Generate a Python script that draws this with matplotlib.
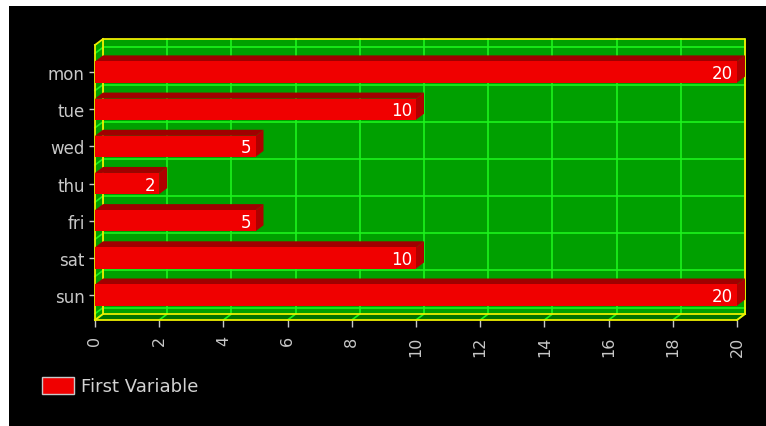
import matplotlib
matplotlib.use("Agg")
import matplotlib.pyplot as plt
from matplotlib.patches import Rectangle, Polygon

categories = ["mon", "tue", "wed", "thu", "fri", "sat", "sun"]
values = [20, 10, 5, 2, 5, 10, 20]
series_name = "First Variable"
x_ticks = list(range(0, 21, 2))

W, H = 766, 427
fig = plt.figure(figsize=(W / 100, H / 100), dpi=100, facecolor="white")
fig.patches.append(Rectangle((9 / W, 0), 1 - 9 / W, 1 - 7 / H, transform=fig.transFigure,
                             facecolor="black", edgecolor="none", zorder=-10))

# front plane in pixels: x 95..737, y 46..321
ax = fig.add_axes([95 / W, 1 - 321 / H, 642 / W, 275 / H])
xmax = 20
top, bottom = -0.726, 6.67
ax.set_xlim(0, xmax)
ax.set_ylim(bottom, top)
ax.patch.set_visible(False)
for s in ax.spines.values():
    s.set_visible(False)

px_x = 642 / xmax
px_y = 275 / (bottom - top)
DX = 8 / px_x
DY = 6 / px_y

wall = "#00a000"
floor_c = "#007400"
grid_c = "#1cf41c"
yellow = "#eeee00"

# back wall
ax.add_patch(Rectangle((DX, top - DY), xmax, bottom - top, facecolor=wall,
                       edgecolor="none", zorder=1, clip_on=False))
for t in x_ticks:
    ax.plot([t + DX, t + DX], [top - DY, bottom - DY], color=grid_c, lw=1.2, zorder=2, clip_on=False)
for i in range(len(categories) + 1):
    b = i - 0.5
    ax.plot([DX, xmax + DX], [b - DY, b - DY], color=grid_c, lw=1.2, zorder=2, clip_on=False)

# left wall
ax.add_patch(Polygon([(0, top), (0, bottom), (DX, bottom - DY), (DX, top - DY)], closed=True,
                     facecolor=wall, edgecolor="none", zorder=3, clip_on=False))
for i in range(len(categories) + 1):
    b = i - 0.5
    ax.plot([0, DX], [b, b - DY], color=grid_c, lw=1.2, zorder=3.5, clip_on=False)

# floor
ax.add_patch(Polygon([(0, bottom), (xmax, bottom), (xmax + DX, bottom - DY), (DX, bottom - DY)],
                     closed=True, facecolor=floor_c, edgecolor="none", zorder=3, clip_on=False))
for t in x_ticks:
    ax.plot([t, t + DX], [bottom, bottom - DY], color=grid_c, lw=1.2, zorder=3.5, clip_on=False)

# yellow outline
lw_y = 1.3
outline = [
    ([DX, xmax + DX, xmax + DX], [top - DY, top - DY, bottom - DY]),
    ([DX, DX], [top - DY, bottom - DY]),
    ([0, DX], [top, top - DY]),
    ([0, 0], [top, bottom]),
    ([0, xmax], [bottom, bottom]),
    ([xmax, xmax + DX], [bottom, bottom - DY]),
    ([0, DX], [bottom, bottom - DY]),
    ([DX, xmax + DX], [bottom - DY, bottom - DY]),
]
for xs, ys in outline:
    ax.plot(xs, ys, color=yellow, lw=lw_y, zorder=4, clip_on=False)

# bars
h = 0.285
front_c = "#f00000"
top_c = "#a00000"
side_c = "#b00000"
for i, v in enumerate(values):
    c = i
    ax.add_patch(Polygon([(0, c - h), (v, c - h), (v + DX, c - h - DY), (DX, c - h - DY)], closed=True,
                         facecolor=top_c, edgecolor="none", zorder=5, clip_on=False))
    ax.add_patch(Polygon([(v, c - h), (v, c + h), (v + DX, c + h - DY), (v + DX, c - h - DY)], closed=True,
                         facecolor=side_c, edgecolor="none", zorder=5, clip_on=False))
    ax.add_patch(Rectangle((0, c - h), v, 2 * h, facecolor=front_c, edgecolor="none",
                           zorder=6, clip_on=False))
    ax.annotate(str(v), xy=(v, c), xytext=(-4, -1), textcoords="offset pixels",
                ha="right", va="center", color="white", fontsize=12, zorder=7)

# ticks
lab_c = "#c8c8c8"
ax.set_yticks(range(len(categories)), categories)
ax.set_xticks(x_ticks, [str(t) for t in x_ticks], rotation=90)
ax.tick_params(axis="y", colors=lab_c, length=4.5, width=1, pad=3, labelsize=12)
ax.tick_params(axis="x", colors=lab_c, length=5, width=1, pad=6, labelsize=11.5)

# legend
fig.patches.append(Rectangle((42 / W, 1 - 395 / H), 32 / W, 17 / H, transform=fig.transFigure,
                             facecolor=front_c, edgecolor="#c8c8c8", lw=1))
fig.text(81 / W, 1 - 387 / H, series_name, color="#d2d2d2", fontsize=13, va="center", ha="left")

fig.savefig("out.png", dpi=100, facecolor=fig.get_facecolor())
